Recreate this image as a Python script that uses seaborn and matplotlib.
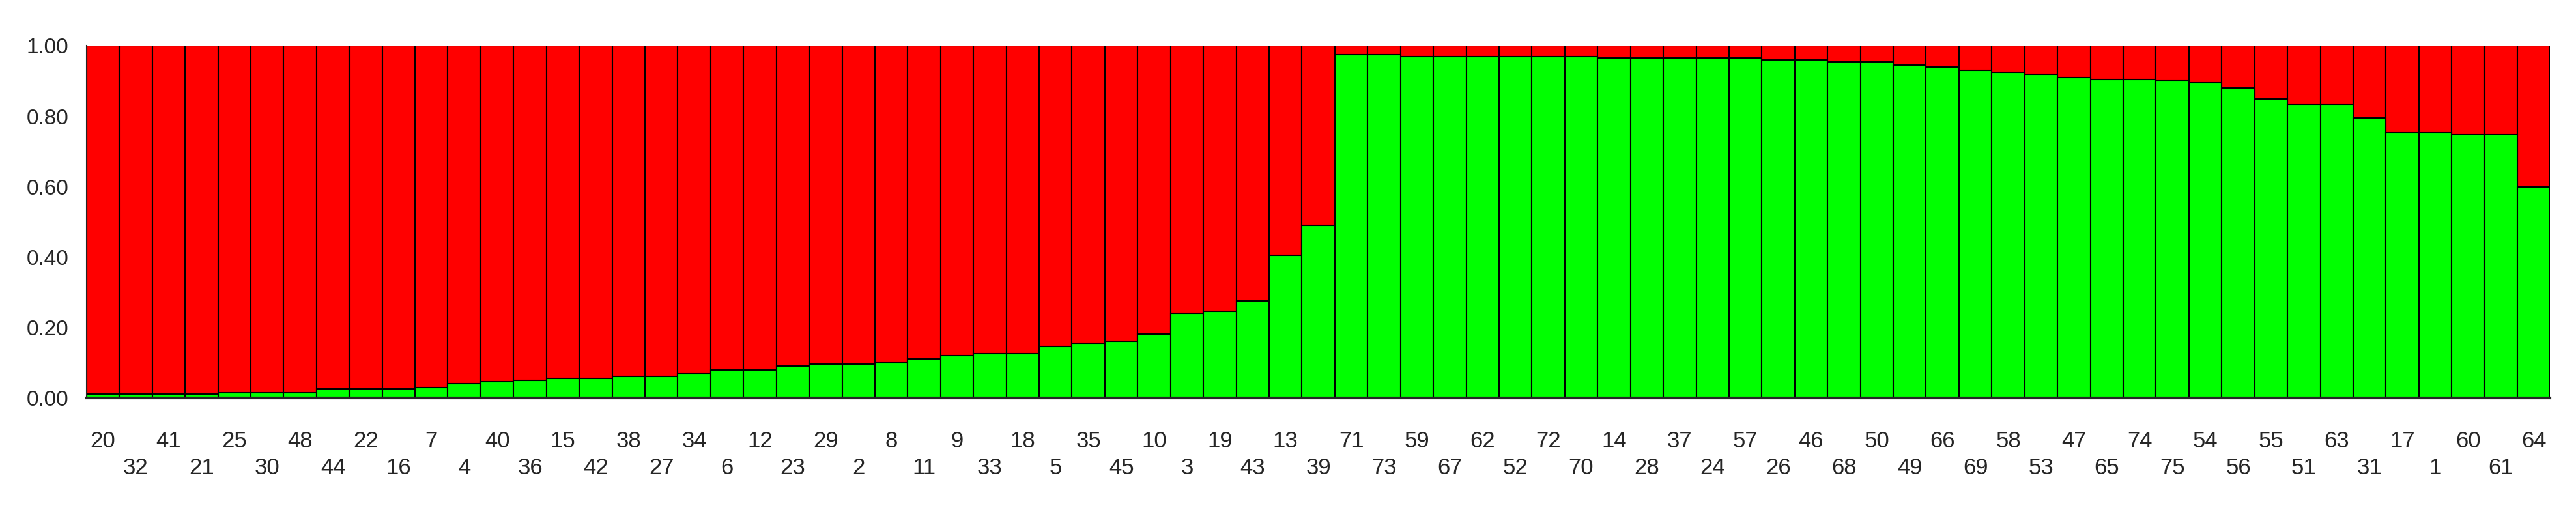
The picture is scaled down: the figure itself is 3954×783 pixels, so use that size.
import matplotlib
matplotlib.use("Agg")
import matplotlib.pyplot as plt
import seaborn as sns
import pandas as pd

sample_ids = [20, 32, 41, 21, 25, 30, 48, 44, 22, 16, 7, 4, 40, 36, 15, 42, 38, 27, 34, 6,
              12, 23, 29, 2, 8, 11, 9, 33, 18, 5, 35, 45, 10, 3, 19, 43, 13, 39, 71, 73,
              59, 67, 62, 52, 72, 70, 14, 28, 37, 24, 57, 26, 46, 68, 50, 49, 66, 69, 58, 53,
              47, 65, 74, 75, 54, 56, 55, 51, 63, 31, 17, 1, 60, 61, 64]
green_share = [0.01, 0.01, 0.01, 0.01, 0.015, 0.015, 0.015, 0.025, 0.025, 0.025, 0.03, 0.04, 0.045, 0.05,
               0.055, 0.055, 0.06, 0.06, 0.07, 0.08, 0.08, 0.09, 0.095, 0.095, 0.10, 0.11, 0.12, 0.125,
               0.125, 0.145, 0.155, 0.16, 0.18, 0.24, 0.245, 0.275, 0.405, 0.49, 0.975, 0.975,
               0.97, 0.97, 0.97, 0.97, 0.97, 0.97, 0.965, 0.965, 0.965, 0.965, 0.965, 0.96, 0.96,
               0.955, 0.955, 0.945, 0.94, 0.93, 0.925, 0.92, 0.91, 0.905, 0.905, 0.90, 0.895, 0.88,
               0.85, 0.835, 0.835, 0.795, 0.755, 0.755, 0.75, 0.75, 0.60]

sns.set_style("white")
plt.rcParams['font.family'] = ['Liberation Sans Narrow', 'Liberation Sans', 'DejaVu Sans']

df = pd.DataFrame({"pos": range(len(sample_ids)), "green": green_share, "total": 1.0})

fig, ax = plt.subplots(figsize=(39.54, 7.83), dpi=100)
fig.subplots_adjust(left=0.0336, right=0.990, top=0.91, bottom=0.22)

sns.barplot(data=df, x="pos", y="total", color="#ff0000", width=1.0, edgecolor="black",
            linewidth=1.5, ax=ax, saturation=1)
sns.barplot(data=df, x="pos", y="green", color="#00ff00", width=1.0, edgecolor="black",
            linewidth=1.5, ax=ax, saturation=1)

ax.set_xlim(-0.5, len(sample_ids) - 0.5)
ax.set_ylim(0, 1.0)
ax.set_xlabel("")
ax.set_ylabel("")
ax.set_yticks([0, 0.2, 0.4, 0.6, 0.8, 1.0])
ax.set_yticklabels(["0.00", "0.20", "0.40", "0.60", "0.80", "1.00"], fontsize=24)
labels = [str(s) if i % 2 == 0 else "\n" + str(s) for i, s in enumerate(sample_ids)]
ax.set_xticks(range(len(sample_ids)))
ax.set_xticklabels(labels, fontsize=25, linespacing=1.3)
ax.tick_params(axis="x", direction="out", length=30, width=1.5, color="black", pad=6)
ax.tick_params(axis="y", direction="out", length=12, width=2, color="black", pad=8)

for side in ["top", "right"]:
    ax.spines[side].set_visible(False)
ax.spines["bottom"].set_linewidth(3)
ax.spines["left"].set_linewidth(1.5)

fig.savefig("out.png", dpi=100)
